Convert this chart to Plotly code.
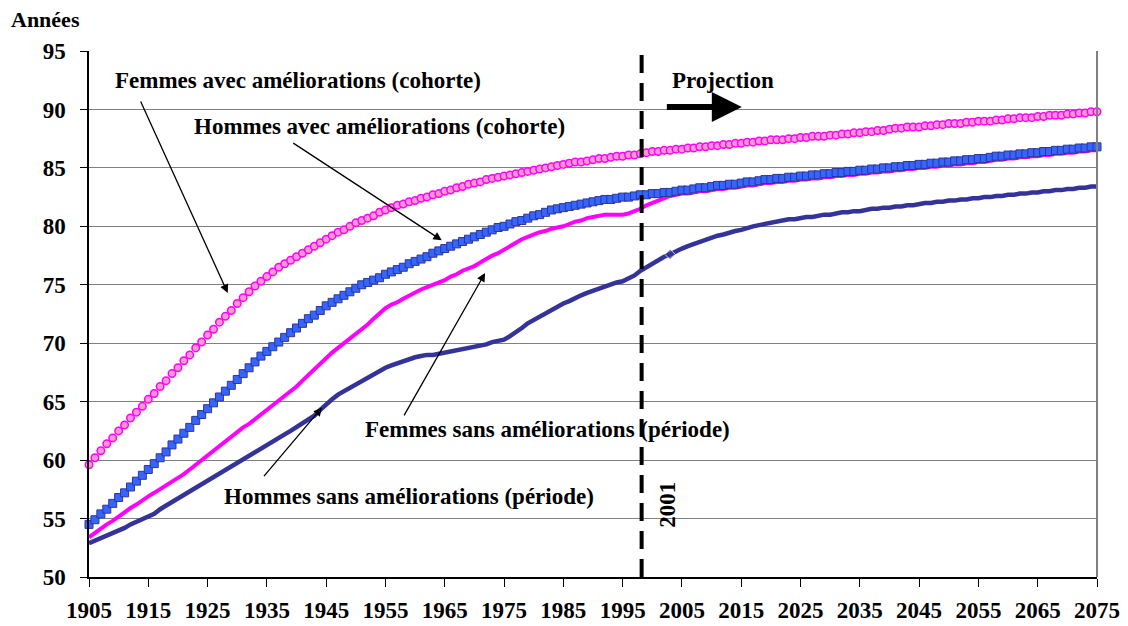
import plotly.graph_objects as go

years = list(range(1905, 2076))

# Femmes avec améliorations (cohorte)
femmes_cohorte = [
    59.6, 60.2, 60.8, 61.4, 61.9, 62.5, 63.0, 63.6, 64.1, 64.6,
    65.2, 65.7, 66.3, 66.8, 67.4, 67.9, 68.5, 69.0, 69.6, 70.1,
    70.7, 71.2, 71.8, 72.3, 72.8, 73.4, 73.9, 74.4, 74.9, 75.3,
    75.7, 76.1, 76.5, 76.8, 77.1, 77.4, 77.7, 78.0, 78.3, 78.6,
    78.9, 79.2, 79.5, 79.7, 80.0, 80.3, 80.5, 80.7, 80.9, 81.2,
    81.4, 81.6, 81.8, 81.9, 82.1, 82.2, 82.4, 82.5, 82.7, 82.8,
    83.0, 83.1, 83.3, 83.4, 83.6, 83.7, 83.8, 84.0, 84.1, 84.2,
    84.3, 84.4, 84.5, 84.6, 84.7, 84.8, 84.9, 85.0, 85.1, 85.2,
    85.3, 85.4, 85.5, 85.5, 85.6, 85.7, 85.8, 85.8, 85.9, 86.0,
    86.0, 86.1, 86.1, 86.2, 86.3, 86.4, 86.4, 86.5, 86.5, 86.6,
    86.6, 86.7, 86.7, 86.8, 86.8, 86.9, 86.9, 87.0, 87.0, 87.1,
    87.1, 87.2, 87.2, 87.3, 87.3, 87.4, 87.4, 87.4, 87.5, 87.5,
    87.6, 87.6, 87.7, 87.7, 87.7, 87.8, 87.8, 87.9, 87.9, 88.0,
    88.0, 88.1, 88.1, 88.2, 88.2, 88.3, 88.4, 88.4, 88.5, 88.5,
    88.5, 88.6, 88.6, 88.7, 88.7, 88.8, 88.8, 88.8, 88.9, 88.9,
    89.0, 89.0, 89.0, 89.1, 89.1, 89.2, 89.2, 89.3, 89.3, 89.3,
    89.4, 89.4, 89.5, 89.5, 89.5, 89.6, 89.6, 89.7, 89.7, 89.8,
    89.8,
]

# Hommes avec améliorations (cohorte)
hommes_cohorte = [
    54.5, 54.9, 55.4, 55.8, 56.3, 56.8, 57.2, 57.7, 58.2, 58.7,
    59.2, 59.7, 60.2, 60.7, 61.3, 61.8, 62.3, 62.8, 63.4, 63.9,
    64.4, 64.9, 65.4, 65.9, 66.4, 66.9, 67.4, 67.9, 68.4, 68.9,
    69.3, 69.7, 70.1, 70.5, 70.9, 71.3, 71.7, 72.1, 72.4, 72.8,
    73.2, 73.5, 73.8, 74.1, 74.4, 74.7, 75.0, 75.2, 75.4, 75.6,
    75.9, 76.1, 76.3, 76.5, 76.8, 77.0, 77.2, 77.4, 77.7, 77.9,
    78.1, 78.3, 78.5, 78.7, 78.9, 79.1, 79.3, 79.5, 79.7, 79.9,
    80.0, 80.2, 80.4, 80.5, 80.7, 80.9, 81.0, 81.2, 81.4, 81.5,
    81.6, 81.7, 81.8, 81.9, 82.0, 82.1, 82.2, 82.3, 82.3, 82.4,
    82.5, 82.5, 82.6, 82.7, 82.7, 82.8, 82.8, 82.9, 82.9, 83.0,
    83.1, 83.1, 83.2, 83.3, 83.3, 83.4, 83.5, 83.5, 83.6, 83.6,
    83.7, 83.8, 83.8, 83.9, 84.0, 84.0, 84.1, 84.1, 84.2, 84.2,
    84.3, 84.3, 84.4, 84.4, 84.5, 84.5, 84.6, 84.6, 84.7, 84.7,
    84.8, 84.8, 84.9, 84.9, 85.0, 85.0, 85.1, 85.1, 85.2, 85.2,
    85.3, 85.3, 85.4, 85.4, 85.5, 85.5, 85.6, 85.6, 85.7, 85.7,
    85.8, 85.8, 85.9, 86.0, 86.0, 86.1, 86.1, 86.2, 86.2, 86.3,
    86.3, 86.4, 86.4, 86.5, 86.5, 86.6, 86.6, 86.7, 86.7, 86.8,
    86.8,
]

# Femmes sans améliorations (période)
femmes_periode = [
    53.4, 53.8, 54.1, 54.5, 54.8, 55.2, 55.5, 55.9, 56.2, 56.6,
    56.9, 57.2, 57.5, 57.8, 58.1, 58.4, 58.8, 59.2, 59.6, 60.1,
    60.5, 60.9, 61.3, 61.7, 62.0, 62.4, 62.8, 63.1, 63.5, 63.9,
    64.2, 64.6, 65.0, 65.4, 65.9, 66.3, 66.8, 67.3, 67.8, 68.3,
    68.8, 69.2, 69.6, 70.0, 70.4, 70.7, 71.2, 71.6, 72.1, 72.6,
    73.0, 73.3, 73.5, 73.8, 74.1, 74.4, 74.6, 74.8, 75.0, 75.2,
    75.4, 75.7, 75.9, 76.2, 76.4, 76.6, 76.9, 77.2, 77.5, 77.7,
    78.0, 78.3, 78.6, 78.9, 79.1, 79.3, 79.5, 79.6, 79.8, 79.9,
    80.0, 80.2, 80.4, 80.5, 80.7, 80.8, 80.9, 81.0, 81.0, 81.0,
    81.0, 81.1, 81.3, 81.5, 81.8, 82.0, 82.2, 82.4, 82.6, 82.7,
    82.8, 82.8, 82.9, 83.0, 83.0, 83.1, 83.2, 83.2, 83.3, 83.3,
    83.4, 83.5, 83.5, 83.6, 83.7, 83.7, 83.8, 83.8, 83.9, 83.9,
    84.0, 84.0, 84.1, 84.1, 84.2, 84.2, 84.3, 84.3, 84.4, 84.4,
    84.5, 84.5, 84.6, 84.6, 84.7, 84.7, 84.8, 84.8, 84.9, 84.9,
    85.0, 85.0, 85.1, 85.1, 85.2, 85.2, 85.3, 85.3, 85.4, 85.4,
    85.5, 85.5, 85.6, 85.7, 85.7, 85.8, 85.8, 85.9, 85.9, 86.0,
    86.0, 86.1, 86.1, 86.2, 86.2, 86.3, 86.3, 86.4, 86.4, 86.5,
    86.5,
]

# Hommes sans améliorations (période)
hommes_periode = [
    52.9, 53.1, 53.4, 53.6, 53.8, 54.0, 54.2, 54.5, 54.7, 54.9,
    55.1, 55.4, 55.8, 56.1, 56.5, 56.8, 57.1, 57.4, 57.7, 58.0,
    58.3, 58.6, 58.9, 59.2, 59.5, 59.8, 60.1, 60.4, 60.7, 61.0,
    61.3, 61.6, 61.9, 62.2, 62.5, 62.8, 63.1, 63.4, 63.8, 64.3,
    64.8, 65.2, 65.6, 65.9, 66.2, 66.5, 66.8, 67.1, 67.4, 67.6,
    67.9, 68.1, 68.3, 68.4, 68.6, 68.8, 68.9, 69.0, 69.0, 69.1,
    69.2, 69.3, 69.4, 69.5, 69.6, 69.7, 69.8, 69.9, 70.1, 70.2,
    70.3, 70.6, 70.9, 71.3, 71.7, 72.0, 72.3, 72.6, 72.9, 73.1,
    73.4, 73.6, 73.9, 74.1, 74.3, 74.5, 74.7, 74.8, 75.0, 75.2,
    75.3, 75.5, 75.8, 76.2, 76.5, 76.9, 77.2, 77.4, 77.6, 77.9,
    78.1, 78.3, 78.5, 78.7, 78.9, 79.0, 79.2, 79.3, 79.5, 79.6,
    79.7, 79.9, 80.0, 80.1, 80.2, 80.3, 80.4, 80.5, 80.6, 80.6,
    80.7, 80.8, 80.8, 80.9, 81.0, 81.0, 81.1, 81.2, 81.2, 81.3,
    81.3, 81.4, 81.5, 81.5, 81.6, 81.6, 81.7, 81.7, 81.8, 81.8,
    81.9, 82.0, 82.0, 82.1, 82.1, 82.2, 82.2, 82.3, 82.3, 82.4,
    82.4, 82.5, 82.5, 82.6, 82.6, 82.7, 82.7, 82.8, 82.8, 82.9,
    82.9, 83.0, 83.0, 83.1, 83.1, 83.2, 83.2, 83.3, 83.3, 83.4,
    83.4,
]

tick_years = list(range(1905, 2076, 10))
separation_year = 1998.2

serif = "Liberation Serif"
font_txt = dict(family=serif, size=23, color="black", weight="bold")
font_tick = dict(family=serif, size=23, color="black", weight="bold")

fig = go.Figure()

fig.add_trace(go.Scatter(
    x=years, y=hommes_periode, mode="lines+markers",
    line=dict(color="#333399", width=4.5),
    marker=dict(symbol="diamond", color="#333399",
                size=[8 if y == 2003 else 0 for y in years]),
    cliponaxis=False, showlegend=False))
fig.add_trace(go.Scatter(
    x=years, y=femmes_periode, mode="lines",
    line=dict(color="#FF00FF", width=4),
    cliponaxis=False, showlegend=False))
fig.add_trace(go.Scatter(
    x=years, y=hommes_cohorte, mode="markers",
    marker=dict(symbol="square", size=8, color="#3366FF",
                line=dict(color="#333399", width=1)),
    cliponaxis=False, showlegend=False))
fig.add_trace(go.Scatter(
    x=years, y=femmes_cohorte, mode="markers",
    marker=dict(symbol="circle", size=7.5, color="#FF99CC",
                line=dict(color="#FF00FF", width=1.5)),
    cliponaxis=False, showlegend=False))

# ligne verticale 2001
fig.add_shape(type="line", x0=separation_year, x1=separation_year, y0=50, y1=95,
              xref="x", yref="y", line=dict(color="black", width=4, dash="18px,10px"))
# bordure droite
fig.add_shape(type="line", x0=1, x1=1, y0=0, y1=1, xref="paper", yref="paper",
              line=dict(color="#808080", width=2))

labels = [
    ("Femmes avec améliorations (cohorte)", 1909.0, 92.5),
    ("Hommes avec améliorations (cohorte)", 1922.4, 88.5),
    ("Femmes sans améliorations (période)", 1951.2, 62.6),
    ("Hommes sans améliorations (période)", 1927.4, 56.9),
    ("Projection", 2003.0, 92.5),
]
for txt, lx, ly in labels:
    fig.add_annotation(x=lx, y=ly, text=txt, showarrow=False, xanchor="left",
                       yanchor="middle", font=font_txt)

arrows = [
    (1913.6, 90.8, 1928.4, 74.3),
    (1939.2, 87.2, 1964.5, 78.8),
    (1958.0, 63.7, 1971.8, 76.0),
    (1934.3, 58.5, 1944.3, 64.5),
]
for tx, ty, hx, hy in arrows:
    fig.add_annotation(x=hx, y=hy, ax=tx, ay=ty, xref="x", yref="y",
                       axref="x", ayref="y", text="", showarrow=True,
                       arrowhead=2, arrowsize=1.3, arrowwidth=1.3, arrowcolor="black")

fig.add_annotation(x=2015.1, y=90.2, ax=2002.2, ay=90.2, xref="x", yref="y",
                   axref="x", ayref="y", text="", showarrow=True,
                   arrowhead=2, arrowsize=1, arrowwidth=6, arrowcolor="black")

fig.add_annotation(x=2002.5, y=56.2, text="2001", textangle=-90, showarrow=False,
                   font=font_txt)

fig.add_annotation(x=-0.079, y=1.059, xref="paper", yref="paper", text="Années",
                   showarrow=False, xanchor="left", yanchor="middle",
                   font=dict(family=serif, size=22, color="black", weight="bold"))

fig.update_layout(
    width=1128, height=626,
    margin=dict(l=81, r=39, t=43, b=57),
    paper_bgcolor="white", plot_bgcolor="white",
    xaxis=dict(range=[1905, 2075], tickvals=tick_years, showgrid=False,
               zeroline=False, showline=True, linecolor="black", linewidth=1.5,
               ticks="outside", ticklen=8, tickcolor="black", automargin=False,
               ticklabelstandoff=4, tickfont=font_tick),
    yaxis=dict(range=[50, 95], dtick=5, showgrid=True, gridcolor="#808080",
               gridwidth=1, zeroline=False, showline=True, linecolor="black",
               linewidth=1.5, ticks="outside", ticklen=7, tickcolor="black",
               automargin=False, ticklabelstandoff=10, tickfont=font_tick),
)

fig.write_html("out.html")
